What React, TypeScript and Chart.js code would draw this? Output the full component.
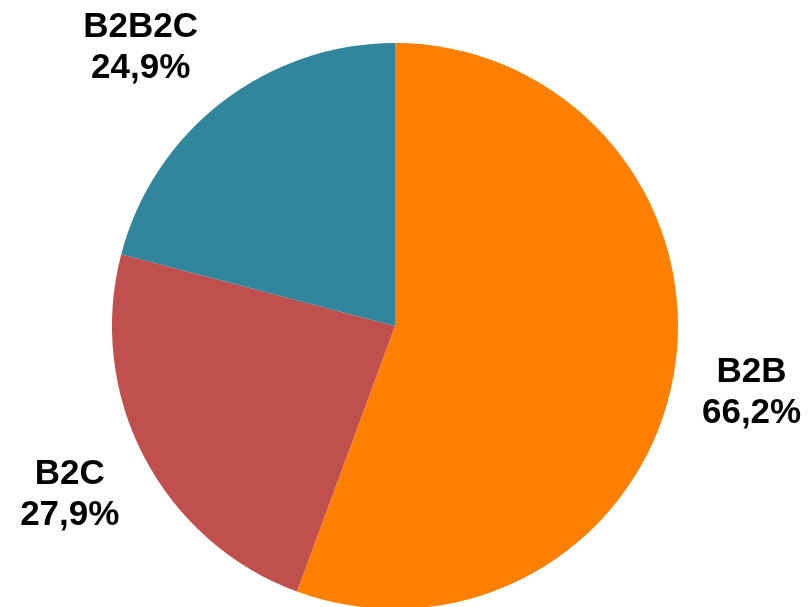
import React, { useEffect, useRef } from "react";
import { Chart, registerables } from "chart.js";

Chart.register(...registerables);

const categories = ["B2B", "B2C", "B2B2C"];
const values = [66.2, 27.9, 24.9];
const valueLabels = ["66,2%", "27,9%", "24,9%"];
const colors = ["#FF8000", "#C0504D", "#31859C"];

const labelPlugin = {
  id: "outsideLabels",
  afterDatasetsDraw(chart: any, _args: any, opts: any) {
    const ctx = chart.ctx;
    const meta = chart.getDatasetMeta(0);
    ctx.save();
    ctx.font = "bold 35px 'Liberation Sans', Arial, sans-serif";
    ctx.fillStyle = "#000000";
    ctx.textAlign = "center";
    ctx.textBaseline = "alphabetic";
    meta.data.forEach((arc: any, i: number) => {
      const p = arc.getProps(["x", "y", "startAngle", "endAngle", "outerRadius"], true);
      const mid = (p.startAngle + p.endAngle) / 2;
      const d = p.outerRadius * opts.factor;
      const nudge = opts.nudges[i] || [0, 0];
      const cx = p.x + Math.cos(mid) * d + nudge[0];
      const cy = p.y + Math.sin(mid) * d + nudge[1];
      ctx.fillText(categories[i], cx, cy - 8);
      ctx.fillText(valueLabels[i], cx, cy + 33);
    });
    ctx.restore();
  },
};

export default function App() {
  const ref = useRef<HTMLCanvasElement>(null);
  useEffect(() => {
    if (!ref.current) return;
    const chart = new Chart(ref.current, {
      type: "pie",
      data: {
        labels: categories,
        datasets: [
          {
            data: values,
            backgroundColor: colors,
            borderWidth: 0,
          },
        ],
      },
      options: {
        responsive: false,
        animation: false,
        layout: { padding: { left: 112, right: 131, top: 43, bottom: 11 } },
        plugins: {
          legend: { display: false },
          tooltip: { enabled: false },
          outsideLabels: { factor: 1.28, nudges: [[0, 0], [-4, -1], [-33, 6]] },
        } as any,
      },
      plugins: [labelPlugin],
    });
    return () => chart.destroy();
  }, []);
  return (
    <div style={{ position: "absolute", left: 0, top: 0, width: 809, height: 607, overflow: "hidden", background: "#fff" }}>
      <canvas ref={ref} width={809} height={620} style={{ width: 809, height: 620, display: "block" }} />
    </div>
  );
}
